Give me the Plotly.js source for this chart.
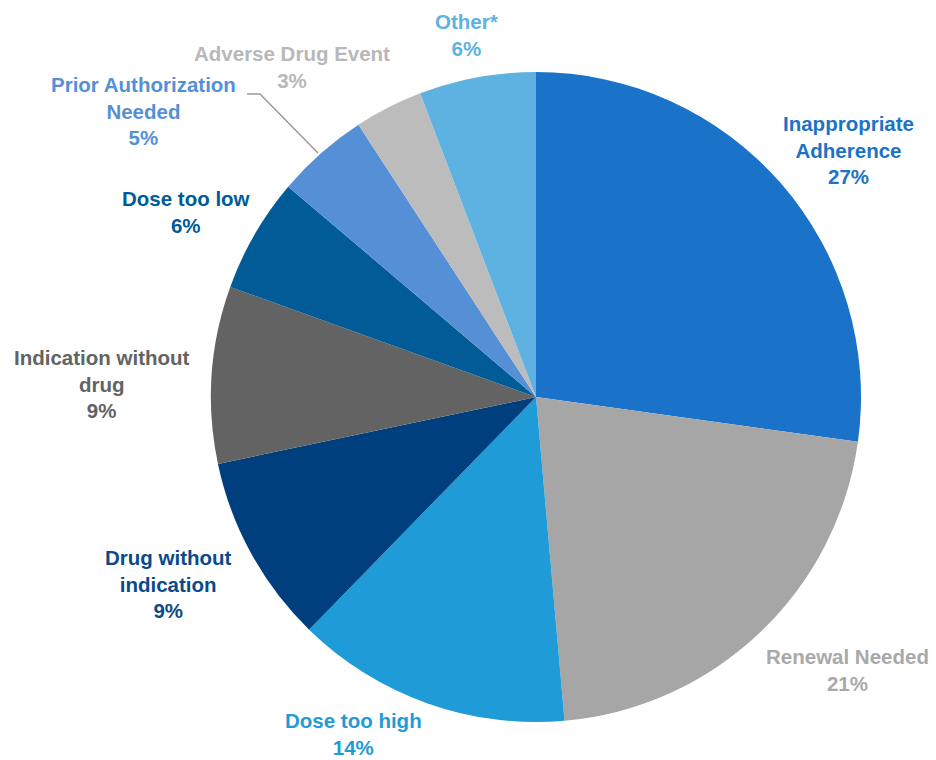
<!DOCTYPE html>
<html>
<head>
<meta charset="utf-8">
<script src="https://cdn.plot.ly/plotly-3.0.1.min.js"></script>
<style>html,body{margin:0;padding:0;background:#fff;}#chart{width:936px;height:760px;}</style>
</head>
<body>
<div id="chart"></div>
<script>
// Data
const categories = ["Inappropriate Adherence", "Renewal Needed", "Dose too high", "Drug without indication", "Indication without drug", "Dose too low", "Prior Authorization Needed", "Adverse Drug Event", "Other*"];
const labelLines = ["Inappropriate<br>Adherence", "Renewal Needed", "Dose too high", "Drug without<br>indication", "Indication without<br>drug", "Dose too low", "Prior Authorization<br>Needed", "Adverse Drug Event", "Other*"];
const values = [27.2, 21.4, 13.7, 9.4, 8.8, 5.7, 4.6, 3.4, 5.8];

// Styles
const sliceColors = ["#1a73c8", "#a6a6a6", "#1f9bd7", "#003f7d", "#636363", "#005b96", "#5590d6", "#bcbcbc", "#5db2e2"];
const labelColors = ["#1a73c8", "#a9a9a9", "#1f9bd7", "#0a4a8a", "#636363", "#005b96", "#5590d6", "#b8b8b8", "#5db2e2"];
// label block centres in pixels
const labelPos = [[848,150],[847,670],[353,734],[168,584],[102,384],[186,212],[143,111],[292,67],[466,35]];

const W = 936, H = 760, cx = 536, cy = 397, R = 325;
const total = values.reduce((a,b)=>a+b,0);

const trace = {
  type: 'pie',
  labels: categories,
  values: values,
  sort: false,
  direction: 'clockwise',
  rotation: 0,
  textinfo: 'none',
  hoverinfo: 'label+percent',
  marker: {colors: sliceColors, line: {width: 0}},
  domain: {x: [(cx-R)/W, (cx+R)/W], y: [1-(cy+R)/H, 1-(cy-R)/H]},
  showlegend: false
};

const annotations = categories.map((c,i)=>({
  xref:'paper', yref:'paper',
  x: labelPos[i][0]/W, y: 1-labelPos[i][1]/H,
  xanchor:'center', yanchor:'middle', align:'center',
  showarrow:false,
  text: '<b>' + labelLines[i] + '<br>' + Math.round(values[i]/total*100) + '%</b>',
  font:{family:'Liberation Sans, Arial, sans-serif', size:20.5, color: labelColors[i]}
}));

const layout = {
  width: W, height: H,
  margin: {l:0, r:0, t:0, b:0},
  paper_bgcolor:'#ffffff',
  annotations: annotations,
  shapes: [{
    type:'path', xref:'paper', yref:'paper',
    path: 'M ' + (247/W) + ' ' + (1-94/H) + ' L ' + (260/W) + ' ' + (1-94/H) + ' L ' + (318/W) + ' ' + (1-153/H),
    line:{color:'#9a9a9a', width:1.5}
  }]
};

Plotly.newPlot('chart', [trace], layout, {displayModeBar:false, staticPlot:true});
</script>
</body>
</html>
